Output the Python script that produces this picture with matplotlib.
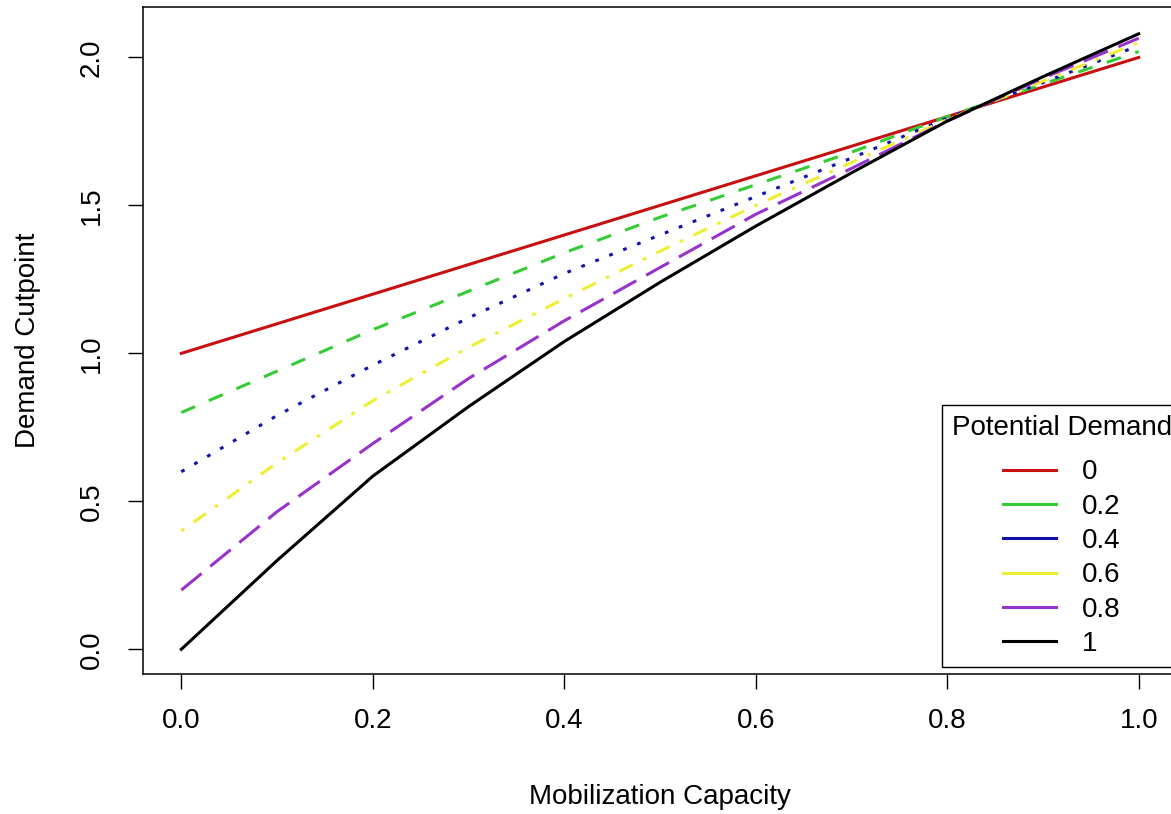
import matplotlib
matplotlib.use("Agg")
import matplotlib.pyplot as plt
from matplotlib.lines import Line2D

# ---- data ----
capacity = [0.0, 0.1, 0.2, 0.3, 0.4, 0.5, 0.6, 0.7, 0.8, 0.9, 1.0]
cut_d0 = [1.00, 1.10, 1.20, 1.30, 1.40, 1.50, 1.60, 1.70, 1.80, 1.90, 2.00]
cut_d02 = [0.80, 0.94, 1.08, 1.21, 1.34, 1.46, 1.57, 1.68, 1.80, 1.91, 2.02]
cut_d04 = [0.60, 0.79, 0.96, 1.12, 1.27, 1.40, 1.53, 1.66, 1.795, 1.915, 2.04]
cut_d06 = [0.40, 0.63, 0.84, 1.02, 1.185, 1.345, 1.50, 1.645, 1.79, 1.92, 2.05]
cut_d08 = [0.20, 0.465, 0.695, 0.915, 1.11, 1.29, 1.47, 1.625, 1.785, 1.93, 2.065]
cut_d1 = [0.00, 0.30, 0.585, 0.82, 1.04, 1.24, 1.43, 1.61, 1.785, 1.935, 2.08]
series = [cut_d0, cut_d02, cut_d04, cut_d06, cut_d08, cut_d1]
series_labels = ["0", "0.2", "0.4", "0.6", "0.8", "1"]
x_ticks = [0.0, 0.2, 0.4, 0.6, 0.8, 1.0]
y_ticks = [0.0, 0.5, 1.0, 1.5, 2.0]

# ---- styles ----
colors = ["#C81010", "#33CC33", "#1111AA", "#EEEE33", "#9932CC", "#000000"]
u = 2.7
styles = ["-", (0, (4 * u, 4 * u)), (0, (1 * u, 3 * u)),
          (0, (1 * u, 3 * u, 4 * u, 3 * u)), (0, (7 * u, 3 * u)), "-"]
LW = 2.2

plt.rcParams['font.family'] = ['Liberation Sans', 'DejaVu Sans']
plt.rcParams['lines.scale_dashes'] = False

W, H = 1171, 814
fig = plt.figure(figsize=(W / 100, H / 100), dpi=100)
ax = fig.add_axes([143 / W, (H - 674) / H, (1177 - 143) / W, (674 - 7) / H])

for ys, c, ls in zip(series, colors, styles):
    ax.plot(capacity, ys, color=c, linestyle=ls, linewidth=LW)

ax.set_xlim(-0.04, 1.04)
ax.set_ylim(-0.0835, 2.1705)
ax.set_xticks(x_ticks)
ax.set_yticks(y_ticks)
ax.set_xticklabels([f"{v:.1f}" for v in x_ticks])
ax.set_yticklabels([f"{v:.1f}" for v in y_ticks], rotation=90, va='center')
ax.tick_params(direction='out', length=10.8, width=1.0, labelsize=20, colors='black')
ax.tick_params(axis='x', pad=13.7)
ax.tick_params(axis='y', pad=17.0)
for s in ax.spines.values():
    s.set_linewidth(1.1)
    s.set_color('black')

ax.set_xlabel("Mobilization Capacity", fontsize=20)
ax.set_ylabel("Demand Cutpoint", fontsize=20)
ax.xaxis.label.set_va('center')
ax.yaxis.label.set_va('center')
ax.xaxis.set_label_coords(0.5, (674 - 797) / 667)
ax.yaxis.set_label_coords((28 - 143) / 1034, 0.5)

handles = [Line2D([], [], color=c, lw=LW) for c in colors]
leg = ax.legend(handles, series_labels, title="Potential Demand", loc='lower left',
                bbox_to_anchor=(942 / W, (H - 667) / H), bbox_transform=fig.transFigure,
                fontsize=20, title_fontsize=20, frameon=True, fancybox=False,
                framealpha=1, edgecolor='black', borderpad=0.36, labelspacing=0.30,
                handlelength=1.9, handletextpad=0.95, borderaxespad=0)
leg.get_frame().set_linewidth(1.0)
leg._legend_box.sep = 13.0

fig.savefig("out.png", dpi=100)
